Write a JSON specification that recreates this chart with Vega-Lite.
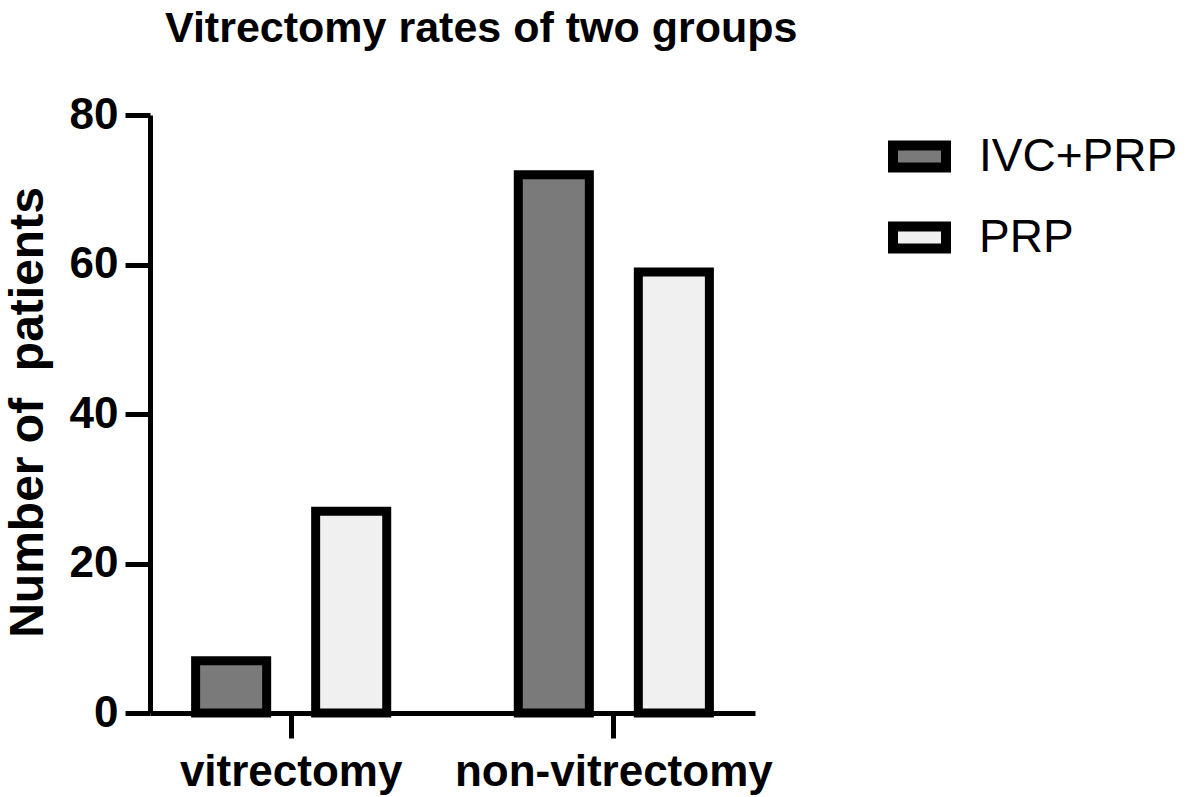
{
  "$schema": "https://vega.github.io/schema/vega-lite/v6.json",
  "autosize": {"type": "none"},
  "padding": {"left": 150, "top": 115, "right": 441, "bottom": 84},
  "width": 605,
  "height": 598,
  "title": {
    "text": "Vitrectomy rates of two groups",
    "anchor": "start",
    "frame": "group",
    "dx": 15,
    "offset": 42,
    "font": "Liberation Sans",
    "fontSize": 43,
    "fontWeight": "bold",
    "color": "black",
    "limit": 0
  },
  "data": {
    "values": [
      {"outcome": "vitrectomy", "group": "IVC+PRP", "patients": 7},
      {"outcome": "vitrectomy", "group": "PRP", "patients": 27},
      {"outcome": "non-vitrectomy", "group": "IVC+PRP", "patients": 72},
      {"outcome": "non-vitrectomy", "group": "PRP", "patients": 59}
    ]
  },
  "mark": {"type": "bar", "stroke": "black", "strokeWidth": 9, "strokeJoin": "miter"},
  "encoding": {
    "x": {
      "field": "outcome",
      "type": "nominal",
      "sort": ["vitrectomy", "non-vitrectomy"],
      "scale": {"paddingInner": 0.125, "paddingOuter": 0},
      "axis": {
        "title": null,
        "labelAngle": 0,
        "labelLimit": 0,
        "zindex": 1,
        "domainColor": "black",
        "domainWidth": 5,
        "tickColor": "black",
        "tickWidth": 5,
        "tickSize": 25,
        "labelFont": "Liberation Sans",
        "labelFontSize": 44,
        "labelFontWeight": "bold",
        "labelColor": "black",
        "labelPadding": 12
      }
    },
    "xOffset": {
      "field": "group",
      "type": "nominal",
      "sort": ["IVC+PRP", "PRP"],
      "scale": {"paddingInner": 0.408, "paddingOuter": 0.38}
    },
    "y": {
      "field": "patients",
      "type": "quantitative",
      "scale": {"domain": [0, 80]},
      "axis": {
        "title": "Number of \u00a0patients",
        "values": [0, 20, 40, 60, 80],
        "grid": false,
        "zindex": 1,
        "domainColor": "black",
        "domainWidth": 5,
        "tickColor": "black",
        "tickWidth": 5,
        "tickSize": 25,
        "labelFont": "Liberation Sans",
        "labelFontSize": 44,
        "labelFontWeight": "bold",
        "labelColor": "black",
        "labelPadding": 7,
        "titleFont": "Liberation Sans",
        "titleFontSize": 48,
        "titleFontWeight": "bold",
        "titleColor": "black",
        "titleAngle": -90,
        "titleX": -122,
        "titleY": 297,
        "titleBaseline": "middle",
        "titleAlign": "center",
        "titleLimit": 0
      }
    },
    "fill": {
      "field": "group",
      "type": "nominal",
      "scale": {"domain": ["IVC+PRP", "PRP"], "range": ["#7a7a7a", "#f0f0f0"]},
      "legend": {
        "title": null,
        "orient": "none",
        "legendX": 738,
        "legendY": 10,
        "symbolType": "M-1,-0.415H1V0.415H-1Z",
        "symbolSize": 2809,
        "symbolStrokeColor": "black",
        "symbolStrokeWidth": 10,
        "symbolOpacity": 1,
        "labelFont": "Liberation Sans",
        "labelFontSize": 46,
        "labelColor": "black",
        "labelOffset": 28,
        "labelLimit": 0,
        "rowPadding": 18
      }
    }
  },
  "config": {"view": {"stroke": null}}
}
